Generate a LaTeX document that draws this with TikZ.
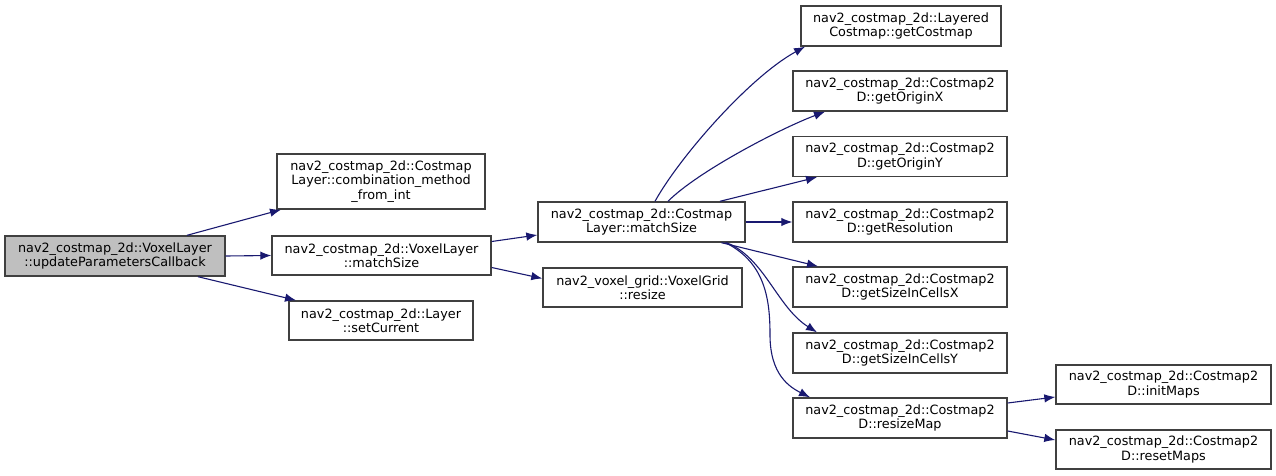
\documentclass[tikz,border=0pt]{standalone}
\usepackage{fontspec}
\setmainfont{DejaVu Sans}
\usetikzlibrary{arrows.meta}
\definecolor{edgec}{HTML}{191970}
\definecolor{boxc}{HTML}{404040}
\definecolor{rootc}{HTML}{BFBFBF}
\tikzset{
  fn/.style={draw=boxc, line width=1.4pt, rectangle, align=center, inner sep=0pt,
    font=\fontsize{12.8}{14.5}\selectfont, fill=white},
  call/.style={draw=edgec, line width=1.1pt, -{Latex[length=11pt,width=8.5pt]}},
}
\begin{document}
\begin{tikzpicture}[x=1pt,y=-1pt]
\useasboundingbox (0,0) rectangle (1276,476);
\node[fn, fill=rootc, minimum width=220pt, minimum height=40pt] (root) at (115,256) {nav2\_costmap\_2d::VoxelLayer\\::updateParametersCallback};
\node[fn, minimum width=208pt, minimum height=55pt] (comb) at (381,181.5) {nav2\_costmap\_2d::Costmap\\Layer::combination\_method\\\_from\_int};
\node[fn, minimum width=219pt, minimum height=39pt] (vlms) at (381.5,255.5) {nav2\_costmap\_2d::VoxelLayer\\::matchSize};
\node[fn, minimum width=184pt, minimum height=39pt] (setc) at (381,320.5) {nav2\_costmap\_2d::Layer\\::setCurrent};
\node[fn, minimum width=207pt, minimum height=40pt] (clms) at (641.5,222) {nav2\_costmap\_2d::Costmap\\Layer::matchSize};
\node[fn, minimum width=199pt, minimum height=39pt] (rsz) at (642.5,287.5) {nav2\_voxel\_grid::VoxelGrid\\::resize};
\node[fn, minimum width=200pt, minimum height=40pt] (gcm) at (901,26) {nav2\_costmap\_2d::Layered\\Costmap::getCostmap};
\node[fn, minimum width=214pt, minimum height=40pt] (gox) at (900,91) {nav2\_costmap\_2d::Costmap2\\D::getOriginX};
\node[fn, minimum width=214pt, minimum height=40pt] (goy) at (900,156.5) {nav2\_costmap\_2d::Costmap2\\D::getOriginY};
\node[fn, minimum width=214pt, minimum height=40pt] (gres) at (900,222) {nav2\_costmap\_2d::Costmap2\\D::getResolution};
\node[fn, minimum width=214pt, minimum height=40pt] (gsx) at (900,287) {nav2\_costmap\_2d::Costmap2\\D::getSizeInCellsX};
\node[fn, minimum width=214pt, minimum height=40pt] (gsy) at (900,353) {nav2\_costmap\_2d::Costmap2\\D::getSizeInCellsY};
\node[fn, minimum width=214pt, minimum height=40pt] (rmap) at (900,418) {nav2\_costmap\_2d::Costmap2\\D::resizeMap};
\node[fn, minimum width=215pt, minimum height=39pt] (init) at (1163.5,384.5) {nav2\_costmap\_2d::Costmap2\\D::initMaps};
\node[fn, minimum width=215pt, minimum height=39pt] (rst) at (1163.5,449.5) {nav2\_costmap\_2d::Costmap2\\D::resetMaps};

\draw[call] ([xshift=72pt]root.north) -- ([xshift=-100pt]comb.south);
\draw[call] (root.east) -- (vlms.west);
\draw[call] ([xshift=83pt]root.south) -- ([xshift=-85pt]setc.north);
\draw[call] ([yshift=14pt]vlms.east) -- ([yshift=-13pt]clms.west);
\draw[call] ([yshift=-12pt]vlms.east) -- ([yshift=9pt]rsz.west);
\draw[call] ([xshift=13.5pt]clms.north) .. controls +(25,-45) and +(-55,30) .. ([xshift=-96pt]gcm.south);
\draw[call] ([xshift=26.5pt]clms.north) .. controls +(30,-30) and +(-45,17) .. ([xshift=-75pt]gox.south);
\draw[call] ([xshift=78.5pt]clms.north) -- ([xshift=-83pt]goy.south);
\draw[call] (clms.east) -- (gres.west);
\draw[call] ([xshift=80pt]clms.south) -- ([xshift=-82pt]gsx.north);
\draw[call] ([xshift=85pt]clms.south) .. controls +(38,15) and +(-40,-25) .. ([xshift=-83pt]gsy.north);
\draw[call] ([xshift=84pt]clms.south) .. controls +(40,20) and +(0,-35) .. (770,335) .. controls +(0,40) and +(-20,-10) .. ([xshift=-90pt]rmap.north);
\draw[call] ([yshift=15pt]rmap.east) -- ([yshift=-12.5pt]init.west);
\draw[call] ([yshift=-13pt]rmap.east) -- ([yshift=9.5pt]rst.west);
\end{tikzpicture}
\end{document}
